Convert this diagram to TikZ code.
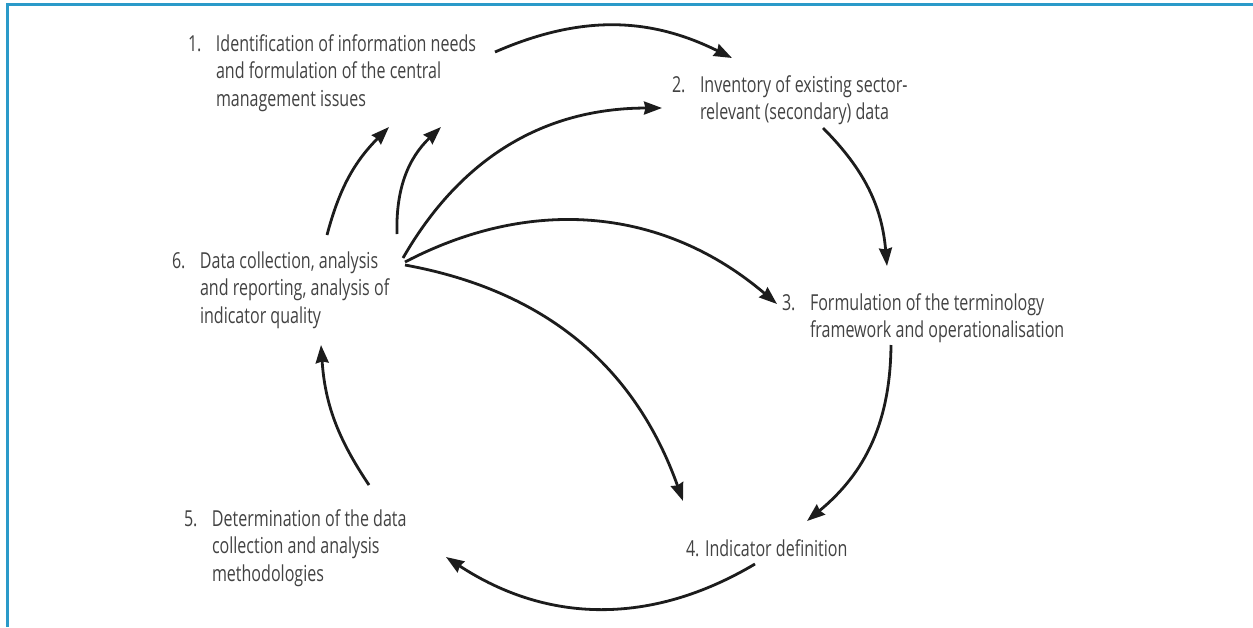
\documentclass[tikz,border=0pt]{standalone}
\usepackage{fontspec}
\setmainfont[FakeStretch=0.73]{Open Sans}
\usetikzlibrary{arrows.meta}
\definecolor{frameblue}{HTML}{2A9AC9}
\definecolor{labelgray}{HTML}{424242}
\definecolor{arrowink}{HTML}{1C1C1C}
\newcommand{\steplabel}[2]{%
  \fontsize{22}{27.5}\selectfont
  \begin{tabular}[t]{@{}p{28pt}@{}l@{}}#1&#2\end{tabular}}
\begin{document}
\begin{tikzpicture}[x=1pt,y=-1pt,
  stagelabel/.style={anchor=base west, inner sep=0pt, outer sep=0pt, text=labelgray},
  flow/.style={draw=arrowink, line width=2.8pt,
    -{Stealth[inset=1.5pt, length=18pt, width=13pt]}}]
\useasboundingbox (0,0) rectangle (1253,627);
% frame along the top and left edges
\draw[frameblue, line width=3pt] (7.5,627) -- (7.5,4.5) -- (1253,4.5);

% the six stages
\node[stagelabel] (s1) at (188,51) {\steplabel{1.}{Identification of information needs\\ & and formulation of the central\\ & management issues}};
\node[stagelabel] (s2) at (672,92) {\steplabel{2.}{Inventory of existing sector-\\ & relevant (secondary) data}};
\node[stagelabel] (s3) at (782,310) {\steplabel{3.}{Formulation of the terminology\\ & framework and operationalisation}};
\node[stagelabel] (s4) at (686,556) {\fontsize{22}{27.5}\selectfont 4. Indicator definition};
\node[stagelabel] (s5) at (184,526) {\steplabel{5.}{Determination of the data\\ & collection and analysis\\ & methodologies}};
\node[stagelabel] (s6) at (172,268) {\steplabel{6.}{Data collection, analysis\\ & and reporting, analysis of\\ & indicator quality}};

% connector end points
\coordinate (a1) at (495,52);  \coordinate (a2) at (732,58);
\coordinate (b1) at (823,128); \coordinate (b2) at (887,266);
\coordinate (c1) at (891,345); \coordinate (c2) at (807,521);
\coordinate (d1) at (755,564); \coordinate (d2) at (446,557);
\coordinate (e1) at (369,485); \coordinate (e2) at (321,345);
\coordinate (f1) at (327,235); \coordinate (f2) at (389,127);
\coordinate (g1) at (397,234); \coordinate (g2) at (441,127);
\coordinate (h1) at (403,258); \coordinate (h2) at (662,108);
\coordinate (i1) at (405,262); \coordinate (i2) at (777,304);
\coordinate (j1) at (405,265); \coordinate (j2) at (683,501);

% main cycle
\draw[flow] (a1) to[bend left=25] (a2);
\draw[flow] (b1) to[bend left=20] (b2);
\draw[flow] (c1) to[bend left=25] (c2);
\draw[flow] (d1) to[bend left=32] (d2);
\draw[flow] (e1) to[bend left=15] (e2);
\draw[flow] (f1) to[bend left=15] (f2);
% feedback from stage 6
\draw[flow] (g1) to[bend left=24] (g2);
\draw[flow] (h1) to[bend left=30] (h2);
\draw[flow] (i1) to[bend left=34] (i2);
\draw[flow] (j1) to[bend left=30] (j2);
\end{tikzpicture}
\end{document}
